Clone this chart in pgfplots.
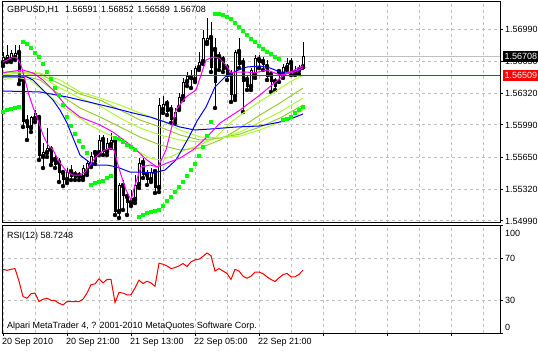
\documentclass[border=0pt]{standalone}
\usepackage{fontspec}
\setmainfont{Liberation Sans}
\usepackage{pgfplots}
\pgfplotsset{compat=1.18}
\usepackage{pgfplotstable}
\definecolor{grd}{RGB}{192,192,192}
\definecolor{gy}{RGB}{173,255,47}
\definecolor{yg}{RGB}{154,205,50}
\definecolor{sar}{RGB}{0,255,0}
\definecolor{mag}{RGB}{255,0,255}
\definecolor{mblue}{RGB}{0,0,255}
\definecolor{mred}{RGB}{255,0,0}
\newcommand{\mtf}{\fontsize{9bp}{10bp}\selectfont}

\pgfplotstableread{
i o h l c
0 1.56636 1.56750 1.56605 1.56698
1 1.56667 1.56823 1.56646 1.56719
2 1.56667 1.56771 1.56646 1.56740
3 1.56688 1.56823 1.56667 1.56740
4 1.56740 1.56823 1.56417 1.56438
5 1.56459 1.56480 1.55969 1.56021
6 1.56021 1.56094 1.55834 1.55959
7 1.55959 1.56084 1.55917 1.56073
8 1.56052 1.56146 1.56021 1.56115
9 1.56063 1.56094 1.55625 1.55667
10 1.55657 1.55802 1.55542 1.55709
11 1.55698 1.55959 1.55657 1.55750
12 1.55730 1.55771 1.55573 1.55594
13 1.55625 1.55677 1.55542 1.55573
14 1.55594 1.55646 1.55396 1.55490
15 1.55490 1.55521 1.55354 1.55417
16 1.55417 1.55542 1.55386 1.55500
17 1.55500 1.55573 1.55417 1.55448
18 1.55469 1.55511 1.55417 1.55438
19 1.55459 1.55500 1.55417 1.55438
20 1.55438 1.55573 1.55417 1.55542
21 1.55500 1.55625 1.55469 1.55594
22 1.55573 1.55709 1.55552 1.55667
23 1.55698 1.55730 1.55584 1.55605
24 1.55698 1.55886 1.55677 1.55834
25 1.55834 1.55886 1.55677 1.55709
26 1.55709 1.55855 1.55677 1.55802
27 1.55782 1.55907 1.55750 1.55834
28 1.55823 1.55865 1.55052 1.55084
29 1.55084 1.55386 1.55021 1.55365
30 1.55354 1.55417 1.55105 1.55250
31 1.55240 1.55292 1.55052 1.55177
32 1.55177 1.55313 1.55146 1.55230
33 1.55209 1.55469 1.55177 1.55365
34 1.55365 1.55646 1.55334 1.55594
35 1.55594 1.55646 1.55438 1.55469
36 1.55469 1.55521 1.55365 1.55417
37 1.55417 1.55542 1.55396 1.55500
38 1.55500 1.55521 1.55282 1.55334
39 1.55334 1.56271 1.55292 1.56198
40 1.56146 1.56292 1.56115 1.56209
41 1.56209 1.56250 1.56094 1.56125
42 1.56146 1.56198 1.56011 1.56042
43 1.56042 1.56167 1.56011 1.56125
44 1.56167 1.56323 1.56146 1.56282
45 1.56282 1.56480 1.56250 1.56438
46 1.56438 1.56542 1.56396 1.56500
47 1.56480 1.56563 1.56375 1.56459
48 1.56459 1.56605 1.56438 1.56584
49 1.56584 1.56750 1.56563 1.56646
50 1.56646 1.56980 1.56625 1.56896
51 1.56844 1.57105 1.56834 1.56896
52 1.56896 1.57063 1.56542 1.56584
53 1.56771 1.56896 1.56167 1.56427
54 1.56698 1.56750 1.56563 1.56584
55 1.56667 1.56709 1.56542 1.56563
56 1.56584 1.56625 1.56459 1.56490
57 1.56511 1.56563 1.56230 1.56303
58 1.56282 1.56771 1.56250 1.56750
59 1.56750 1.56896 1.56584 1.56615
60 1.56636 1.56688 1.56125 1.56438
61 1.56459 1.56511 1.56355 1.56386
62 1.56386 1.56584 1.56355 1.56563
63 1.56511 1.56719 1.56480 1.56688
64 1.56667 1.56719 1.56584 1.56636
65 1.56646 1.56698 1.56563 1.56615
66 1.56594 1.56667 1.56459 1.56490
67 1.56511 1.56542 1.56334 1.56438
68 1.56438 1.56480 1.56355 1.56386
69 1.56542 1.56563 1.56438 1.56511
70 1.56511 1.56625 1.56480 1.56594
71 1.56584 1.56688 1.56563 1.56636
72 1.56636 1.56688 1.56511 1.56532
73 1.56532 1.56605 1.56511 1.56563
74 1.56563 1.56615 1.56521 1.56542
75 1.56591 1.56852 1.56589 1.56708
}\ohlc

\pgfplotstableread{
i s
0 1.56125
1 1.56146
2 1.56157
3 1.56167
4 1.56177
5 1.56855
6 1.56834
7 1.56792
8 1.56740
9 1.56698
10 1.56625
11 1.56542
12 1.56469
13 1.56375
14 1.56303
15 1.56198
16 1.56073
17 1.55980
18 1.55896
19 1.55823
20 1.55761
21 1.55698
22 1.55365
23 1.55386
24 1.55396
25 1.55407
26 1.55438
27 1.55459
28 1.55855
29 1.55844
30 1.55813
31 1.55782
32 1.55761
33 1.55730
34 1.55032
35 1.55052
36 1.55073
37 1.55084
38 1.55094
39 1.55105
40 1.55146
41 1.55198
42 1.55240
43 1.55292
44 1.55344
45 1.55396
46 1.55459
47 1.55521
48 1.55584
49 1.55667
50 1.55761
51 1.55875
52 1.56021
53 1.57146
54 1.57146
55 1.57136
56 1.57115
57 1.57094
58 1.57053
59 1.57011
60 1.56969
61 1.56928
62 1.56886
63 1.56855
64 1.56813
65 1.56782
66 1.56750
67 1.56730
68 1.56698
69 1.56677
70 1.56042
71 1.56052
72 1.56073
73 1.56115
74 1.56146
75 1.56177
}\sar

\pgfplotstableread{
i r
0 59.5
1 58.6
2 59.5
3 60.2
4 48.4
5 34.1
6 32.5
7 36.7
8 37.3
9 29.4
10 31.6
11 32.5
12 30.6
13 30.3
14 27.8
15 26.2
16 29.4
17 29.4
18 29.4
19 29.4
20 31.6
21 37.3
22 45.2
23 45.9
24 50.7
25 46.8
26 50.0
27 50.0
28 28.4
29 37.9
30 37.3
31 35.7
32 35.7
33 42.1
34 49.4
35 46.2
36 48.4
37 46.8
38 43.7
39 65.2
40 64.3
41 62.7
42 60.2
43 61.1
44 62.7
45 64.9
46 62.1
47 66.5
48 68.4
49 69.0
50 71.6
51 74.8
52 72.2
53 57.9
54 60.2
55 57.9
56 55.7
57 50.0
58 59.5
59 57.9
60 53.1
61 51.2
62 53.1
63 57.0
64 57.0
65 55.4
66 52.5
67 50.0
68 48.1
69 51.6
70 54.5
71 55.7
72 52.5
73 52.5
74 54.8
75 58.7
}\rsi

\begin{document}
\begin{tikzpicture}
\useasboundingbox (0,0) rectangle (538bp,351bp);
\fill[white] (0,0) rectangle (538bp,351bp);

% ---------------- main price panel ----------------
\begin{axis}[
  at={(2bp,128bp)}, anchor=south west, scale only axis,
  width=498bp, height=221bp,
  xmin=-0.25, xmax=124.25, ymin=1.549691, ymax=1.572713,
  clip mode=individual,
  axis line style={line width=1bp, black},
  xtick={0,8,...,120}, xticklabels={}, xtick style={draw=none},
  ytick={1.5499,1.5532,1.5565,1.5599,1.5632,1.5665,1.5699},
  yticklabels={1.54990,1.55320,1.55650,1.55990,1.56320,1.56650,1.56990},
  ytick pos=right, yticklabel pos=right, tick align=outside,
  major tick length=3bp,
  ytick style={line width=1bp, black},
  yticklabel style={font=\mtf, anchor=west, inner sep=0pt, xshift=2bp},
  grid=major, grid style={grd, dash pattern=on 3bp off 3bp, line width=1bp},
]
% bid line
\addplot[grd, line width=1bp] coordinates {(-0.25,1.56708) (124.25,1.56708)};
% candles: wicks, bodies, white interiors
\addplot[only marks, mark=none, error bars/.cd, y dir=plus, y explicit, error mark=none,
  error bar style={draw=black, line width=1bp, solid}]
  table[x=i, y=l, y error expr=\thisrow{h}-\thisrow{l}] {\ohlc};
\addplot[only marks, mark=none, error bars/.cd, y dir=plus, y explicit, error mark=none,
  error bar style={draw=black, line width=3bp, line cap=butt, solid}]
  table[x=i, y=o, y error expr=\thisrow{c}-\thisrow{o}] {\ohlc};
\addplot[only marks, mark=none, error bars/.cd, y dir=plus, y explicit, error mark=none,
  error bar style={draw=white, line width=1bp, line cap=butt, solid}]
  table[x=i, y expr=\thisrow{o}+0.000104, y error expr={max(\thisrow{c}-\thisrow{o}-0.000208,0)}] {\ohlc};
% green ribbon
\addplot[gy, line width=1bp] coordinates {(0,1.56459)(3,1.56490)(6.75,1.56459)(10.5,1.56334)(14.25,1.56198)(18,1.56094)(21.75,1.55990)(25.5,1.55907)(29.25,1.55834)(33,1.55730)(36.75,1.55646)(39.25,1.55625)(41.75,1.55657)(45.5,1.55730)(49.25,1.55782)(53,1.55855)(56.75,1.56011)(61.75,1.56167)(66.75,1.56303)(71.75,1.56438)(75,1.56511)};
\addplot[yg, line width=1bp] coordinates {(0,1.56490)(4.25,1.56511)(9.25,1.56459)(14.25,1.56303)(19.25,1.56167)(24.25,1.56073)(29.25,1.55969)(34.25,1.55865)(39.25,1.55782)(44.25,1.55730)(49.25,1.55750)(54.25,1.55834)(59.25,1.55959)(64.25,1.56094)(69.25,1.56219)(75,1.56375)};
\addplot[gy, line width=1bp] coordinates {(0,1.56511)(4.25,1.56532)(9.25,1.56500)(14.25,1.56375)(19.25,1.56271)(24.25,1.56188)(29.25,1.56063)(34.25,1.55959)(39.25,1.55886)(44.25,1.55834)(49.25,1.55813)(54.25,1.55855)(59.25,1.55917)(64.25,1.56021)(69.25,1.56125)(75,1.56271)};
\addplot[yg, line width=1bp] coordinates {(0,1.56532)(4.25,1.56542)(9.25,1.56521)(14.25,1.56417)(19.25,1.56313)(24.25,1.56250)(29.25,1.56146)(34.25,1.56042)(39.25,1.55969)(44.25,1.55886)(49.25,1.55834)(54.25,1.55855)(59.25,1.55896)(64.25,1.55969)(69.25,1.56063)(75,1.56198)};
\addplot[gy, line width=1bp] coordinates {(0,1.56542)(4.25,1.56542)(9.25,1.56532)(14.25,1.56459)(19.25,1.56334)(24.25,1.56271)(29.25,1.56198)(34.25,1.56115)(39.25,1.56042)(44.25,1.55938)(49.25,1.55865)(54.25,1.55855)(59.25,1.55875)(64.25,1.55938)(69.25,1.56021)(75,1.56146)};
% blue averages
\addplot[mblue, line width=1bp] coordinates {(0,1.56344)(9.25,1.56334)(16,1.56282)(22.5,1.56219)(26.75,1.56177)(32.5,1.56115)(36.75,1.56073)(40.5,1.56021)(44.25,1.55969)(48,1.55938)(51.75,1.55948)(58.25,1.55969)(64.25,1.55980)(69.25,1.56021)(72.5,1.56063)(75,1.56105)};
\addplot[mblue, line width=1bp] coordinates {(0,1.56490)(6,1.56490)(7.5,1.56459)(10,1.56355)(12.5,1.56250)(14.25,1.56146)(16,1.56011)(19.25,1.55677)(22.5,1.55573)(26,1.55573)(28.5,1.55552)(31.75,1.55500)(34.25,1.55500)(37.5,1.55490)(40.5,1.55521)(43.25,1.55625)(46.5,1.55865)(48.5,1.56032)(50.75,1.56177)(53,1.56386)(55.5,1.56490)(58.25,1.56553)(61,1.56594)(64.25,1.56605)(66.75,1.56584)(69.25,1.56542)(72.75,1.56542)(75,1.56573)};
% magenta averages
\addplot[mag, line width=1bp] coordinates {(0,1.56532)(1,1.56542)(5,1.56563)(7.5,1.56532)(10,1.56459)(12.5,1.56355)(16,1.56177)(19.25,1.56073)(24.25,1.55990)(27.5,1.55917)(32.5,1.55761)(36,1.55625)(38.5,1.55552)(41,1.55594)(44.25,1.55646)(47.5,1.55730)(51,1.55865)(54.25,1.56011)(59.25,1.56146)(64.25,1.56303)(70.25,1.56511)(75,1.56605)};
\addplot[mag, line width=1bp] coordinates {(0,1.56646)(2.5,1.56698)(3.5,1.56688)(4.5,1.56615)(5.5,1.56459)(6.5,1.56303)(7.5,1.56177)(8.75,1.56042)(10,1.55886)(11.25,1.55782)(12.5,1.55730)(14.25,1.55594)(16,1.55500)(17.5,1.55469)(19.25,1.55469)(20.5,1.55500)(21.75,1.55573)(23,1.55646)(24.25,1.55698)(25.5,1.55730)(26.75,1.55750)(27.75,1.55730)(28.75,1.55573)(29.75,1.55438)(30.75,1.55313)(32,1.55209)(33,1.55365)(34.5,1.55552)(36.75,1.55573)(38.75,1.55552)(40.75,1.55730)(43.25,1.56146)(45.75,1.56282)(48.25,1.56355)(50.75,1.56667)(52.5,1.56698)(54,1.56688)(55.75,1.56615)(57,1.56532)(58.25,1.56542)(61,1.56542)(62.75,1.56532)(66,1.56563)(69.25,1.56511)(72.75,1.56542)(75,1.56584)};
% parabolic SAR
\addplot[only marks, mark=square*, mark size=1.5bp, color=sar, mark options={draw=none}] table[x=i, y=s] {\sar};
% red horizontal line
\addplot[mred, line width=1bp] coordinates {(-0.25,1.56509) (124.25,1.56509)};
\coordinate (bid) at (axis cs:124.25,1.56708);
\coordinate (hl) at (axis cs:124.25,1.56509);
\end{axis}
\node[fill=black, text=white, font=\mtf, anchor=west, inner sep=0pt, minimum height=11bp, text depth=0pt, align=left] at ([xshift=3bp]bid) {\,1.56708\,};
\node[fill=mred, text=white, font=\mtf, anchor=west, inner sep=0pt, minimum height=11bp, align=left] at ([xshift=3bp]hl) {\,1.56509\,};
\node[font=\mtf, anchor=base west, inner sep=0pt] at (7bp,338.5bp) {GBPUSD,H1\hspace{6bp}1.56591\hspace{3.5bp}1.56852\hspace{3.5bp}1.56589\hspace{3.5bp}1.56708};

% ---------------- RSI panel ----------------
\begin{axis}[
  at={(2bp,18bp)}, anchor=south west, scale only axis,
  width=498bp, height=107bp,
  xmin=-0.25, xmax=124.25, ymin=0, ymax=100,
  clip mode=individual,
  axis line style={line width=1bp, black},
  xtick={0,16,...,112},
  xticklabels={20 Sep 2010,20 Sep 21:00,21 Sep 13:00,22 Sep 05:00,22 Sep 21:00,{},{},{}},
  minor xtick={8,24,...,120},
  xtick pos=left, ytick pos=right, yticklabel pos=right,
  tick align=outside, major tick length=3bp, minor tick length=0pt,
  tick style={line width=1bp, black},
  xticklabel style={font=\mtf, anchor=north west, inner sep=0pt, xshift=-1bp, yshift=-2bp},
  ytick={0,30,70,100}, yticklabels={{},30,70,{}},
  yticklabel style={font=\mtf, anchor=west, inner sep=0pt, xshift=2bp},
  grid=both,
  grid style={grd, dash pattern=on 3bp off 3bp, line width=1bp},
  minor grid style={grd, dash pattern=on 3bp off 3bp, line width=1bp},
]
\addplot[mred, line width=1bp] table[x=i, y=r] {\rsi};
\node[font=\mtf, anchor=west, inner sep=0pt] at (rel axis cs:1,1) [xshift=5bp, yshift=-7bp] {100};
\node[font=\mtf, anchor=west, inner sep=0pt] at (rel axis cs:1,0) [xshift=5bp, yshift=6bp] {0};
\node[font=\mtf, anchor=base west, inner sep=0pt] at (rel axis cs:0,1) [xshift=5bp, yshift=-12.5bp] {RSI(12) 58.7248};
\node[font=\mtf, anchor=base west, inner sep=0pt] at (rel axis cs:0,0) [xshift=5bp, yshift=5bp] {Alpari MetaTrader 4, ? 2001-2010 MetaQuotes Software Corp.};
\end{axis}
\end{tikzpicture}
\end{document}
